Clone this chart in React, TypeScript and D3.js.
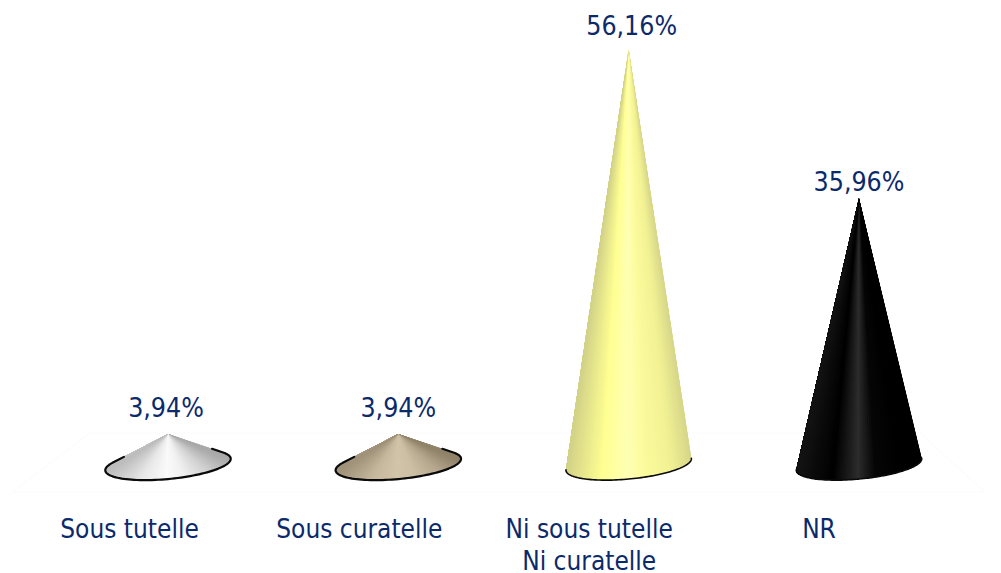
import React from "react";
import * as d3 from "d3";

const categories = ["Sous tutelle", "Sous curatelle", "Ni sous tutelle|Ni curatelle", "NR"];
const values = [3.94, 3.94, 56.16, 35.96];
const valueLabels = ["3,94%", "3,94%", "56,16%", "35,96%"];
const stopsByCone = [
  ["#a9a9a9", "#cfcfcf", "#f0f0f0", "#fafafa", "#e8e8e8", "#bdbdbd"],
  ["#8f8369", "#b5a78d", "#cdbfa4", "#d2c4a9", "#c6b89d", "#a0937a"],
  ["#d6d68a", "#f2f294", "#fbfb9c", "#ffffb4", "#ffff92", "#d2d288"],
  ["#000000", "#000000", "#060606", "#2c2c2c", "#000000", "#141414"],
];

const W = 1001, H = 573;
const FONT = "'DejaVu Sans', sans-serif";
const NAVY = "#0b2a6b";

const x = d3.scalePoint<string>().domain(categories).range([168, 859]);
const y = d3.scaleLinear().domain([0, 56.16]).range([463, 50]);
const labelX = d3.scalePoint<string>().domain(categories).range([129.5, 819]);

const RX = 63, RY = 14.5, TILT = (-5.5 * Math.PI) / 180, CY = 464.5;

function ellipsePoint(cx: number, a: number): [number, number] {
  const ex = RX * Math.cos(a), ey = RY * Math.sin(a);
  return [cx + ex * Math.cos(TILT) - ey * Math.sin(TILT), CY + ex * Math.sin(TILT) + ey * Math.cos(TILT)];
}

// Tangent angles from the apex onto the tilted base ellipse
function tangents(apexY: number) {
  const dy = apexY - CY;
  const lx = (dy * Math.sin(TILT)) / RX;
  const ly = (dy * Math.cos(TILT)) / RY;
  const base = Math.atan2(ly, lx);
  const off = Math.acos(Math.min(1, 1 / Math.hypot(lx, ly)));
  const a0 = base + off;
  let a1 = base - off;
  while (a1 < a0) a1 += 2 * Math.PI;
  return [a0, a1];
}

function Cone({ i }: { i: number }) {
  const name = categories[i];
  const cx = x(name)!;
  const apexY = y(values[i]);
  const [a0, a1] = tangents(apexY);
  const flat = values[i] < 10;
  const shade = d3.scaleLinear<string>()
    .domain([0, 0.18, 0.38, 0.52, 0.72, 1])
    .range(stopsByCone[i])
    .interpolate(d3.interpolateRgb);
  const N = 80;
  const angles = d3.range(0, N + 1).map((k) => a0 + ((a1 - a0) * k) / N);
  const line = d3.line();
  const arc = angles.map((a) => ellipsePoint(cx, a));
  // the dark rim of a flat cone runs a little way up its silhouette
  const up = (p: [number, number]): [number, number] => [p[0] + (cx - p[0]) * 0.2, p[1] + (apexY - p[1]) * 0.2];
  const outline = flat ? [up(arc[0]), ...arc, up(arc[N])] : arc;
  const facets = d3.range(0, N).map((k) => {
    const t = (1 + Math.cos((angles[k] + angles[k + 1]) / 2)) / 2;
    // each slice also covers the rest of the fan, so no seams show between slices
    return <path key={k} d={line([[cx, apexY], ...arc.slice(k)])! + "Z"} fill={shade(1 - t)} />;
  });
  return (
    <g>
      {facets}
      <path d={line(outline)!} fill="none" stroke="#0a0a0a" strokeLinecap="round" strokeLinejoin="round" strokeWidth={flat ? 2.2 : 1.6} />
    </g>
  );
}

export default function App() {
  return (
    <svg width={W} height={H} viewBox={`0 0 ${W} ${H}`} style={{ position: "absolute", left: 0, top: 0, display: "block", background: "#fff" }}>
      <path d="M90 433H920L985 492H12Z" fill="#fff" stroke="#fbfbfb" strokeWidth={1} />
      {categories.map((c, i) => <Cone key={c} i={i} />)}
      {categories.map((c, i) => (
        <text key={c} x={x(c)! + (i === 2 ? 3 : i === 0 ? -2 : 0)} y={y(values[i]) + [-17, -17, -15, -8][i]} textAnchor="middle"
          fontFamily={FONT} fontSize={26.5} style={{ fontStretch: "condensed" }} fill={NAVY}>{valueLabels[i]}</text>
      ))}
      {categories.map((c) => c.split("|").map((t, j) => (
        <text key={t} x={labelX(c)!} y={538 + j * 32} textAnchor="middle"
          fontFamily={FONT} fontSize={26} style={{ fontStretch: "condensed" }} fill={NAVY}>{t}</text>
      )))}
    </svg>
  );
}
